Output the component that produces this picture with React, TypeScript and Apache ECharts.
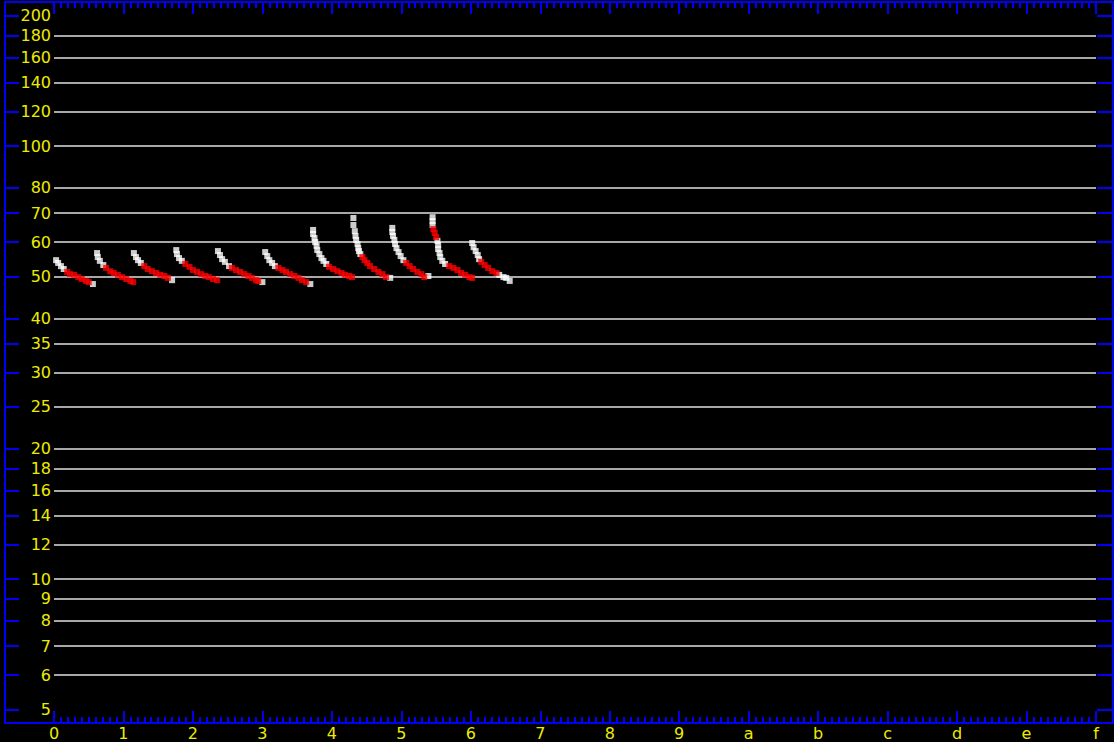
import React, { useEffect, useRef } from "react";
import * as echarts from "echarts";

// Axis ranges (x in hex steps 0..f, y logarithmic)
const X_MIN = -0.7053;
const X_MAX = 15.245;
const Y_MIN = 4.65;
const Y_MAX = 215.1;

const xMajorTicks = [0, 1, 2, 3, 4, 5, 6, 7, 8, 9, 10, 11, 12, 13, 14, 15];
const xMinorTicks: number[] = [];
for (let i = 0; i < 15; i++) {
  for (let j = 1; j < 10; j++) xMinorTicks.push(Math.round((i + j / 10) * 10) / 10);
}

const yTickLabels = [5, 6, 7, 8, 9, 10, 12, 14, 16, 18, 20, 25, 30, 35, 40, 50, 60, 70, 80, 100, 120, 140, 160, 180, 200];
const yGridValues = [6, 7, 8, 9, 10, 12, 14, 16, 18, 20, 25, 30, 35, 40, 50, 60, 70, 80, 100, 120, 140, 160, 180];

// Samples drawn in white
const whitePoints: [number, number][] = [
  // run 1
  [0.03, 54.5], [0.06, 53.7], [0.10, 52.8], [0.14, 52.0], [0.56, 48.0],
  // run 2
  [0.62, 56.6], [0.63, 55.4], [0.66, 54.3], [0.71, 53.1],
  // run 3
  [1.15, 56.6], [1.18, 55.4], [1.21, 54.5], [1.25, 53.7], [1.70, 49.0],
  // run 4
  [1.76, 57.5], [1.77, 56.3], [1.80, 55.1], [1.84, 54.3],
  // run 5
  [2.36, 57.2], [2.39, 56.0], [2.42, 54.8], [2.46, 54.0], [2.52, 52.8], [3.00, 48.5],
  // run 6
  [3.04, 56.9], [3.07, 55.7], [3.10, 54.5], [3.14, 53.7], [3.18, 52.8], [3.69, 48.0],
  // run 7
  [3.73, 64.0], [3.73, 62.6], [3.75, 61.3], [3.76, 60.0], [3.78, 58.8], [3.79, 57.5],
  [3.82, 56.3], [3.85, 55.1], [3.88, 54.3], [3.92, 53.4],
  // run 8
  [4.31, 68.2], [4.31, 65.7], [4.33, 63.6], [4.34, 62.0], [4.35, 60.7], [4.37, 59.4],
  [4.38, 58.1], [4.39, 57.2], [4.41, 56.3], [4.84, 49.6],
  // run 9
  [4.87, 64.7], [4.87, 63.3], [4.88, 62.0], [4.90, 60.7], [4.91, 59.4], [4.93, 58.1],
  [4.96, 56.9], [4.99, 55.7], [5.03, 54.5], [5.39, 50.1],
  // run 10
  [5.45, 68.5], [5.45, 67.1], [5.45, 65.7], [5.52, 60.4], [5.53, 59.1], [5.53, 57.8],
  [5.55, 56.6], [5.56, 55.4], [5.59, 54.3], [5.63, 53.4],
  // run 11
  [6.02, 59.7], [6.04, 58.4], [6.07, 57.2], [6.10, 56.0], [6.12, 54.8],
  [6.41, 50.4], [6.47, 49.8], [6.51, 49.6], [6.56, 48.8],
];

// Samples drawn in red
const redPoints: [number, number][] = [
  // run 1
  [0.19, 51.2], [0.23, 50.6], [0.29, 50.4], [0.35, 49.8], [0.40, 49.3], [0.46, 48.8], [0.50, 48.5],
  // run 2
  [0.75, 52.3], [0.81, 51.4], [0.86, 50.9], [0.92, 50.4], [0.98, 49.8], [1.04, 49.3], [1.10, 48.8], [1.14, 48.5],
  // run 3
  [1.30, 52.8], [1.35, 52.0], [1.41, 51.4], [1.47, 50.9], [1.53, 50.4], [1.59, 50.1], [1.64, 49.6],
  // run 4
  [1.89, 53.4], [1.95, 52.6], [2.00, 51.7], [2.06, 51.2], [2.12, 50.6], [2.18, 50.1], [2.23, 49.8], [2.29, 49.3], [2.35, 49.0],
  // run 5
  [2.56, 52.3], [2.62, 51.7], [2.68, 51.2], [2.74, 50.6], [2.80, 50.1], [2.85, 49.6], [2.91, 49.0], [2.94, 48.8],
  // run 6
  [3.23, 52.3], [3.29, 51.7], [3.34, 51.2], [3.40, 50.6], [3.46, 50.1], [3.52, 49.6], [3.57, 49.0], [3.63, 48.5],
  // run 7
  [3.96, 52.6], [4.02, 52.0], [4.08, 51.4], [4.14, 50.9], [4.19, 50.4], [4.25, 50.1], [4.29, 49.8],
  // run 8
  [4.44, 55.4], [4.47, 54.5], [4.51, 53.7], [4.55, 52.8], [4.61, 52.0], [4.67, 51.2], [4.73, 50.6], [4.78, 49.8],
  // run 9
  [5.07, 53.7], [5.12, 52.8], [5.17, 52.0], [5.23, 51.2], [5.29, 50.6], [5.33, 49.8],
  // run 10
  [5.46, 64.3], [5.48, 63.0], [5.50, 61.6],
  [5.69, 52.8], [5.75, 52.3], [5.81, 51.7], [5.86, 50.9], [5.92, 50.4], [5.98, 49.8], [6.02, 49.6],
  // run 11
  [6.15, 54.0], [6.20, 53.1], [6.25, 52.3], [6.31, 51.4], [6.37, 50.9],
];

const BLUE = "#0000f8";
const YELLOW = "#ecec00";
const GRID_GREY = "#a8a8a8";
const FONT = "DejaVu Sans";

export default function App() {
  const ref = useRef<HTMLDivElement>(null);

  useEffect(() => {
    if (!ref.current) return;
    const chart = echarts.init(ref.current, null, { renderer: "svg" });

    const axisLine = { show: true, onZero: false, lineStyle: { color: BLUE, width: 2 } };
    const xBase = {
      type: "value" as const,
      min: X_MIN,
      max: X_MAX,
      axisLine,
      splitLine: { show: false },
    };
    const yBase = {
      type: "log" as const,
      logBase: 10,
      min: Y_MIN,
      max: Y_MAX,
      axisLine,
      splitLine: { show: false },
      minorTick: { show: false },
      minorSplitLine: { show: false },
    };

    chart.setOption({
      animation: false,
      backgroundColor: "#000000",
      grid: { left: 5, top: 2, width: 1108, height: 721, outerBoundsMode: "none", containLabel: false },
      xAxis: [
        {
          ...xBase,
          position: "bottom",
          axisTick: { show: true, inside: true, length: 12, customValues: xMajorTicks, lineStyle: { color: BLUE, width: 2 } },
          axisLabel: {
            show: true,
            customValues: xMajorTicks,
            formatter: (v: number) => Math.round(v).toString(16),
            color: YELLOW,
            fontFamily: FONT,
            fontSize: 16,
            margin: 2,
          },
        },
        {
          ...xBase,
          position: "bottom",
          axisTick: { show: true, inside: true, length: 6, customValues: xMinorTicks, lineStyle: { color: BLUE, width: 2 } },
          axisLabel: { show: false },
        },
        {
          ...xBase,
          position: "top",
          axisTick: { show: true, inside: true, length: 12, customValues: xMajorTicks, lineStyle: { color: BLUE, width: 2 } },
          axisLabel: { show: false },
        },
        {
          ...xBase,
          position: "top",
          axisTick: { show: true, inside: true, length: 6, customValues: xMinorTicks, lineStyle: { color: BLUE, width: 2 } },
          axisLabel: { show: false },
        },
      ],
      yAxis: [
        {
          ...yBase,
          position: "left",
          axisTick: { show: true, inside: true, length: 14, customValues: yTickLabels, lineStyle: { color: BLUE, width: 2 } },
          axisLabel: {
            show: true,
            inside: true,
            align: "right",
            margin: 46,
            customValues: yTickLabels,
            color: YELLOW,
            fontFamily: FONT,
            fontSize: 16,
          },
        },
        {
          ...yBase,
          position: "right",
          axisTick: { show: true, inside: true, length: 16, customValues: yTickLabels, lineStyle: { color: BLUE, width: 2 } },
          axisLabel: { show: false },
        },
      ],
      series: [
        {
          type: "line",
          data: [],
          xAxisIndex: 0,
          yAxisIndex: 0,
          z: 1,
          silent: true,
          markLine: {
            silent: true,
            symbol: ["none", "none"],
            label: { show: false },
            lineStyle: { color: GRID_GREY, width: 2, type: "solid" },
            emphasis: { disabled: true },
            z: 1,
            data: yGridValues.map((v) => [{ coord: [0, v] }, { coord: [15, v] }]),
          },
        },
        {
          type: "scatter",
          data: whitePoints,
          xAxisIndex: 0,
          yAxisIndex: 0,
          symbol: "rect",
          symbolSize: 6,
          itemStyle: { color: "#ffffff" },
          z: 10,
          silent: true,
        },
        {
          type: "scatter",
          data: redPoints,
          xAxisIndex: 0,
          yAxisIndex: 0,
          symbol: "rect",
          symbolSize: 6,
          itemStyle: { color: "#ff0000" },
          z: 11,
          silent: true,
        },
      ],
    });

    return () => chart.dispose();
  }, []);

  return (
    <div
      ref={ref}
      style={{ position: "fixed", left: 0, top: 0, width: 1114, height: 742, background: "#000" }}
    />
  );
}
